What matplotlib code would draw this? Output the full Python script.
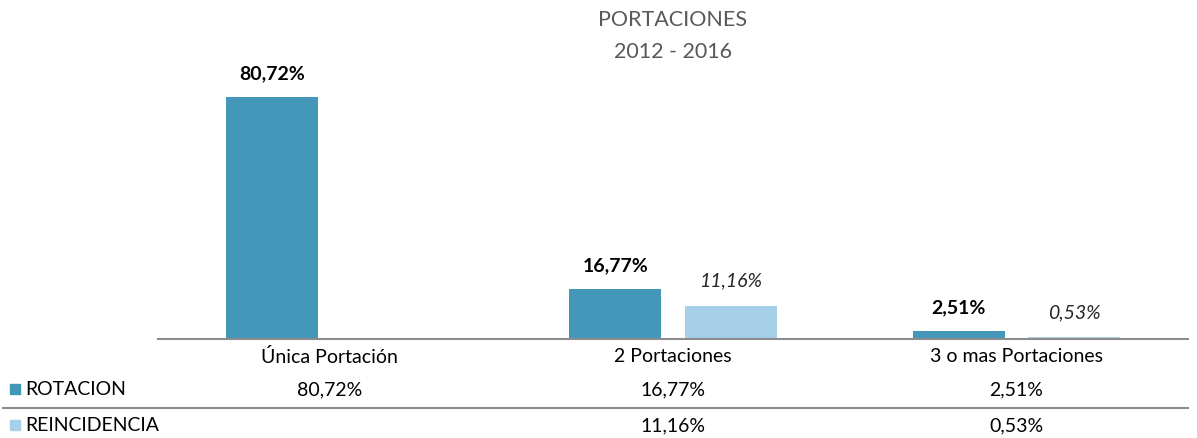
import numpy as np
import matplotlib
matplotlib.use("Agg")
import matplotlib.pyplot as plt

categories = ["Única Portación", "2 Portaciones", "3 o mas Portaciones"]
series_names = ["ROTACION", "REINCIDENCIA"]
rotacion = [80.72, 16.77, 2.51]
reincidencia = [np.nan, 11.16, 0.53]
title_lines = ["PORTACIONES", "2012 - 2016"]

colors = ["#4398BA", "#A6CFE8"]
FONT = ["Lato", "DejaVu Sans"]
plt.rcParams["font.family"] = FONT
FS = 14

W, H = 1197, 439
fig = plt.figure(figsize=(W / 100, H / 100), dpi=100)
ax_left, ax_right = 158 / W, 1188 / W
base_y = 1 - 340 / H
top_y = 1 - 70 / H
ax = fig.add_axes([ax_left, base_y, ax_right - ax_left, top_y - base_y])

x = np.arange(len(categories))
bw = 0.268
gap = 0.067
off = (bw + gap) / 2
vals = [rotacion, reincidencia]
for i, (s, c) in enumerate(zip(vals, colors)):
    pos = x + (-off if i == 0 else off)
    ax.bar(pos, np.nan_to_num(s), width=bw, color=c, zorder=2)
    for p, v in zip(pos, s):
        if np.isnan(v):
            continue
        lbl = f"{v:.2f}%".replace(".", ",")
        if i == 0:
            ax.annotate(lbl, (p, v), xytext=(0, 17.5), textcoords="offset points",
                        ha="center", va="center", fontsize=FS, fontweight="bold",
                        color="#000000")
        else:
            ax.annotate(lbl, (p, v), xytext=(0, 18.5), textcoords="offset points",
                        ha="center", va="center", fontsize=FS, fontstyle="italic",
                        color="#262626")

ax.set_xlim(-0.5, len(categories) - 0.5)
ax.set_ylim(0, 90)
for sp in ["top", "right", "left"]:
    ax.spines[sp].set_visible(False)
ax.spines["bottom"].set_color("#8c8c8c")
ax.spines["bottom"].set_linewidth(1.5)
ax.set_yticks([])
ax.set_xticks([])

# title
cx = (ax_left + ax_right) / 2
fig.text(cx, 1 - 20 / H, title_lines[0], ha="center", va="center", fontsize=15.5, color="#595959")
fig.text(cx, 1 - 52 / H, title_lines[1], ha="center", va="center", fontsize=15.5, color="#595959")

# data table
trans = matplotlib.transforms.blended_transform_factory(ax.transData, fig.transFigure)
row_y = [1 - 357 / H, 1 - 390 / H, 1 - 426 / H]
for xi, cat in zip(x, categories):
    ax.text(xi, row_y[0], cat, transform=trans, ha="center", va="center", fontsize=FS, color="#000000")
for r, (name, s, c) in enumerate(zip(series_names, vals, colors)):
    y = row_y[r + 1]
    for xi, v in zip(x, s):
        if np.isnan(v):
            continue
        ax.text(xi, y, f"{v:.2f}%".replace(".", ","), transform=trans, ha="center",
                va="center", fontsize=FS, color="#000000")
    fig.patches.append(matplotlib.patches.Rectangle((10 / W, y - 5 / H), 10 / W, 10 / H,
                                                    transform=fig.transFigure, color=c))
    fig.text(25 / W, y, name, ha="left", va="center", fontsize=FS, color="#000000")

# row separator
fig.add_artist(matplotlib.lines.Line2D([3 / W, ax_right], [1 - 409 / H, 1 - 409 / H],
                                       transform=fig.transFigure, color="#8c8c8c", linewidth=1.5))

fig.savefig("out.png", dpi=100, facecolor="white")
